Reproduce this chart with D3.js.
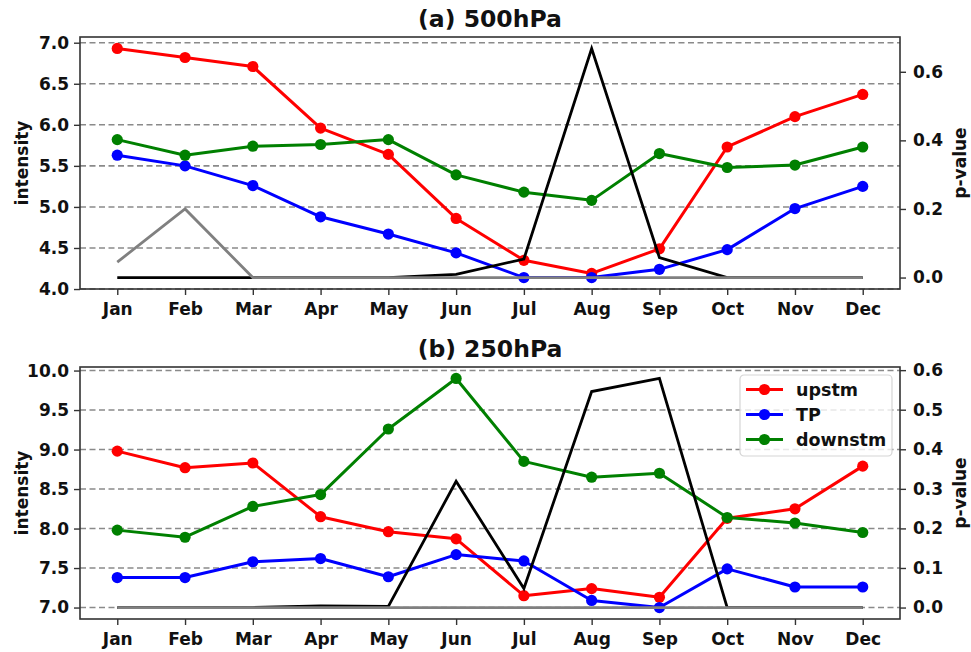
<!DOCTYPE html>
<html>
<head>
<meta charset="utf-8">
<script src="https://cdn.jsdelivr.net/npm/d3@7"></script>
<style>
  body { margin: 0; background: #fff; }
  svg { display: block; }
  text { font-family: "DejaVu Sans", sans-serif; font-weight: bold; fill: #111; }
</style>
</head>
<body>
<svg id="chart" width="971" height="652"></svg>
<script>
// Monthly categories
const months = ["Jan", "Feb", "Mar", "Apr", "May", "Jun", "Jul", "Aug", "Sep", "Oct", "Nov", "Dec"];

// (a) 500hPa intensity
const upstm500   = [6.93, 6.82, 6.71, 5.96, 5.64, 4.86, 4.35, 4.19, 4.49, 5.73, 6.10, 6.37];
const tp500      = [5.63, 5.50, 5.26, 4.88, 4.67, 4.44, 4.14, 4.14, 4.24, 4.48, 4.98, 5.25];
const downstm500 = [5.82, 5.63, 5.74, 5.76, 5.82, 5.39, 5.18, 5.08, 5.65, 5.48, 5.51, 5.73];
// (a) 500hPa p-values
const pBlack500  = [0.0, 0.0, 0.0, 0.0, 0.0, 0.009, 0.054, 0.668, 0.058, 0.0, 0.0, 0.0];
const pGray500   = [0.045, 0.20, 0.0, 0.0, 0.0, 0.0, 0.0, 0.0, 0.0, 0.0, 0.0, 0.0];

// (b) 250hPa intensity
const upstm250   = [8.98, 8.77, 8.83, 8.15, 7.96, 7.87, 7.15, 7.24, 7.13, 8.13, 8.25, 8.79];
const tp250      = [7.38, 7.38, 7.58, 7.62, 7.39, 7.67, 7.59, 7.09, 7.00, 7.49, 7.26, 7.26];
const downstm250 = [7.98, 7.89, 8.28, 8.43, 9.26, 9.90, 8.85, 8.65, 8.70, 8.14, 8.07, 7.95];
// (b) 250hPa p-values
const pBlack250  = [0.0, 0.0, 0.0, 0.004, 0.003, 0.319, 0.048, 0.546, 0.579, 0.0, 0.0, 0.0];
const pGray250   = [0.0, 0.0, 0.0, 0.0, 0.0, 0.0, 0.0, 0.0, 0.0, 0.0, 0.0, 0.0];

// Tick values
const leftTicks500  = [4.0, 4.5, 5.0, 5.5, 6.0, 6.5, 7.0];
const rightTicks500 = [0.0, 0.2, 0.4, 0.6];
const leftTicks250  = [7.0, 7.5, 8.0, 8.5, 9.0, 9.5, 10.0];
const rightTicks250 = [0.0, 0.1, 0.2, 0.3, 0.4, 0.5, 0.6];

const seriesNames  = ["upstm", "TP", "downstm"];
const seriesColors = ["#ff0000", "#0000ff", "#008000"];

const svg = d3.select("#chart");
const plotLeft = 80, plotRight = 900;
const FONT = 17;

// autoscale with 5% margins on each side
function padded(values) {
  const [lo, hi] = d3.extent(values);
  const m = (hi - lo) * 0.05;
  return [lo - m, hi + m];
}

const x = d3.scaleLinear().domain([-0.55, 11.55]).range([plotLeft, plotRight]);

function drawPanel(cfg) {
  const g = svg.append("g");
  const yL = d3.scaleLinear().domain(padded(cfg.series.flat())).range([cfg.bottom, cfg.top]);
  const yR = d3.scaleLinear().domain(padded(cfg.pvals.flat())).range([cfg.bottom, cfg.top]);

  // dashed grid from the intensity axis
  g.append("g").selectAll("line").data(cfg.leftTicks).join("line")
    .attr("x1", plotLeft).attr("x2", plotRight)
    .attr("y1", d => yL(d)).attr("y2", d => yL(d))
    .attr("stroke", "#8a8a8a").attr("stroke-width", 1.6)
    .attr("stroke-dasharray", "6,3.5");

  // intensity series
  const line = d3.line().x((d, i) => x(i)).y(d => yL(d));
  cfg.series.forEach((vals, k) => {
    g.append("path").datum(vals)
      .attr("d", line).attr("fill", "none")
      .attr("stroke", seriesColors[k]).attr("stroke-width", 3)
      .attr("stroke-linejoin", "round");
    g.append("g").selectAll("circle").data(vals).join("circle")
      .attr("cx", (d, i) => x(i)).attr("cy", d => yL(d)).attr("r", 5.6)
      .attr("fill", seriesColors[k]);
  });

  // p-value lines on the twin axis
  const pline = d3.line().x((d, i) => x(i)).y(d => yR(d));
  g.append("path").datum(cfg.pvals[0]).attr("d", pline).attr("fill", "none")
    .attr("stroke", "#000").attr("stroke-width", 2.8).attr("stroke-linejoin", "miter");
  g.append("path").datum(cfg.pvals[1]).attr("d", pline).attr("fill", "none")
    .attr("stroke", "#808080").attr("stroke-width", 2.8).attr("stroke-linejoin", "miter");

  // axes
  const xAxis = d3.axisBottom(x).tickValues(d3.range(12)).tickFormat(i => months[i])
    .tickSize(6).tickPadding(8).tickSizeOuter(0);
  const leftAxis = d3.axisLeft(yL).tickValues(cfg.leftTicks).tickFormat(d3.format(".1f"))
    .tickSize(6).tickPadding(5).tickSizeOuter(0);
  const rightAxis = d3.axisRight(yR).tickValues(cfg.rightTicks).tickFormat(d3.format(".1f"))
    .tickSize(6).tickPadding(7).tickSizeOuter(0);

  [[xAxis, `translate(0,${cfg.bottom})`], [leftAxis, `translate(${plotLeft},0)`],
   [rightAxis, `translate(${plotRight},0)`]].forEach(([ax, tr]) => {
    const a = g.append("g").attr("transform", tr).call(ax);
    a.select(".domain").remove();
    a.selectAll(".tick line").attr("stroke", "#333").attr("stroke-width", 1.4);
    a.selectAll(".tick text").style("font-size", FONT + "px")
      .style("font-family", "'DejaVu Sans', sans-serif").style("font-weight", "bold").attr("fill", "#111");
  });

  // frame
  g.append("rect").attr("x", plotLeft).attr("y", cfg.top)
    .attr("width", plotRight - plotLeft).attr("height", cfg.bottom - cfg.top)
    .attr("fill", "none").attr("stroke", "#333").attr("stroke-width", 1.6);

  // titles and axis labels
  g.append("text").attr("x", (plotLeft + plotRight) / 2).attr("y", cfg.top - 10)
    .attr("text-anchor", "middle").style("font-size", "23.5px").text(cfg.title);
  const midY = (cfg.top + cfg.bottom) / 2;
  g.append("text").attr("transform", `translate(28,${midY}) rotate(-90)`)
    .attr("text-anchor", "middle").style("font-size", FONT + "px").text("intensity");
  g.append("text").attr("transform", `translate(966,${midY}) rotate(-90)`)
    .attr("text-anchor", "middle").style("font-size", FONT + "px").text("p-value");

  if (cfg.legend) {
    const lg = g.append("g").attr("transform", "translate(740,375)");
    lg.append("rect").attr("width", 152).attr("height", 81).attr("rx", 4)
      .attr("fill", "#fff").attr("fill-opacity", 0.8)
      .attr("stroke", "#d5d5d5").attr("stroke-width", 1.2);
    seriesNames.forEach((name, k) => {
      const yy = 14.5 + k * 25;
      lg.append("line").attr("x1", 6).attr("x2", 43).attr("y1", yy).attr("y2", yy)
        .attr("stroke", seriesColors[k]).attr("stroke-width", 3);
      lg.append("circle").attr("cx", 24.5).attr("cy", yy).attr("r", 5.6).attr("fill", seriesColors[k]);
      lg.append("text").attr("x", 56).attr("y", yy).attr("dy", "0.36em")
        .style("font-size", "17.5px").text(name);
    });
  }
}

drawPanel({
  title: "(a) 500hPa", top: 37, bottom: 289,
  series: [upstm500, tp500, downstm500], pvals: [pBlack500, pGray500],
  leftTicks: leftTicks500, rightTicks: rightTicks500, legend: false
});
drawPanel({
  title: "(b) 250hPa", top: 367, bottom: 619,
  series: [upstm250, tp250, downstm250], pvals: [pBlack250, pGray250],
  leftTicks: leftTicks250, rightTicks: rightTicks250, legend: true
});
</script>
</body>
</html>
